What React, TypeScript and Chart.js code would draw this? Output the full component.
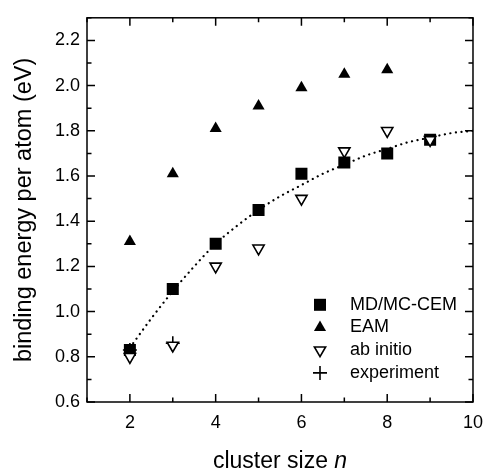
import { useEffect, useRef } from 'react';
import { Chart, registerables } from 'chart.js';

Chart.register(...registerables);

// ---- data ----
const clusterSizes = [2, 3, 4, 5, 6, 7, 8, 9];
const mdmcCem = [0.83, 1.1, 1.3, 1.45, 1.61, 1.66, 1.7, 1.76];
const eamSizes = [2, 3, 4, 5, 6, 7, 8];
const eam = [1.31, 1.61, 1.81, 1.91, 1.99, 2.05, 2.07];
const abInitioSizes = [2, 3, 4, 5, 6, 7, 8, 9];
const abInitio = [0.8, 0.85, 1.2, 1.28, 1.5, 1.71, 1.8, 1.76];
const experimentSizes = [2, 3];
const experiment = [0.83, 0.86];
const fitSizes = [2, 2.5, 3, 3.5, 4, 4.5, 5, 5.5, 6, 6.5, 7, 7.5, 8, 8.5, 9, 9.5, 10];
const fitValues = [0.84, 0.97, 1.09, 1.2, 1.3, 1.38, 1.45, 1.51, 1.56, 1.61, 1.65, 1.69, 1.72, 1.75, 1.77, 1.79, 1.8];

const xMajorTicks = [2, 4, 6, 8, 10];
const xMinorTicks = [1, 3, 5, 7, 9];
const yMajorTicks = [0.6, 0.8, 1.0, 1.2, 1.4, 1.6, 1.8, 2.0, 2.2];
const yMinorTicks = [0.7, 0.9, 1.1, 1.3, 1.5, 1.7, 1.9, 2.1, 2.3];

const xTitle = 'cluster size ';
const xTitleVar = 'n';
const yTitle = 'binding energy per atom (eV)';

const FONT = "'Liberation Sans', Arial, Helvetica, sans-serif";

const pts = (xs: number[], ys: number[]) => xs.map((x, i) => ({ x, y: ys[i] }));

function drawMarker(ctx: CanvasRenderingContext2D, style: string, rot: number, r: number, x: number, y: number, fill: string, stroke: string, bw: number) {
  ctx.save();
  ctx.beginPath();
  if (style === 'rect') {
    const s = Math.SQRT1_2 * r;
    ctx.rect(x - s, y - s, 2 * s, 2 * s);
  } else if (style === 'triangle') {
    let a = (rot * Math.PI) / 180;
    for (let k = 0; k < 3; k++) {
      const px = x + Math.sin(a) * r;
      const py = y - Math.cos(a) * r;
      if (k === 0) ctx.moveTo(px, py); else ctx.lineTo(px, py);
      a += (2 * Math.PI) / 3;
    }
    ctx.closePath();
  } else if (style === 'cross') {
    ctx.moveTo(x, y - r);
    ctx.lineTo(x, y + r);
    ctx.moveTo(x - r, y);
    ctx.lineTo(x + r, y);
  }
  if (style !== 'cross') {
    ctx.fillStyle = fill;
    ctx.fill();
  }
  if (bw > 0) {
    ctx.lineWidth = bw;
    ctx.strokeStyle = stroke;
    ctx.stroke();
  }
  ctx.restore();
}

const framePlugin = {
  id: 'frameTicks',
  afterDatasetsDraw(chart: any) {
    const { ctx, chartArea, scales } = chart;
    const { left, right, top, bottom } = chartArea;
    const x = scales.x;
    const y = scales.y;
    ctx.save();
    ctx.strokeStyle = '#000';
    ctx.lineWidth = 1.5;
    ctx.strokeRect(left, top, right - left, bottom - top);
    ctx.beginPath();
    const major = 8;
    const minor = 4.5;
    xMajorTicks.forEach((v) => {
      const p = x.getPixelForValue(v);
      ctx.moveTo(p, bottom); ctx.lineTo(p, bottom - major);
      ctx.moveTo(p, top); ctx.lineTo(p, top + major);
    });
    xMinorTicks.forEach((v) => {
      const p = x.getPixelForValue(v);
      ctx.moveTo(p, bottom); ctx.lineTo(p, bottom - minor);
      ctx.moveTo(p, top); ctx.lineTo(p, top + minor);
    });
    yMajorTicks.forEach((v) => {
      const p = y.getPixelForValue(v);
      ctx.moveTo(left, p); ctx.lineTo(left + major, p);
      ctx.moveTo(right, p); ctx.lineTo(right - major, p);
    });
    yMinorTicks.forEach((v) => {
      const p = y.getPixelForValue(v);
      ctx.moveTo(left, p); ctx.lineTo(left + minor, p);
      ctx.moveTo(right, p); ctx.lineTo(right - minor, p);
    });
    ctx.stroke();

    // legend
    const legendItems = chart.data.datasets.filter((d: any) => d.showInLegend);
    const symX = left + 233;
    const textX = left + 263;
    let rowY = top + 287;
    ctx.font = `18px ${FONT}`;
    ctx.fillStyle = '#000';
    ctx.textAlign = 'left';
    ctx.textBaseline = 'middle';
    legendItems.forEach((d: any) => {
      drawMarker(ctx, d.pointStyle, d.rotation || 0, d.pointRadius, symX, rowY, d.backgroundColor, d.borderColor, d.borderWidth);
      ctx.fillStyle = '#000';
      ctx.fillText(d.label, textX, rowY);
      rowY += 22.7;
    });

    // x title with italic variable
    const fs = 23;
    ctx.font = `${fs}px ${FONT}`;
    const w1 = ctx.measureText(xTitle).width;
    ctx.font = `italic ${fs}px ${FONT}`;
    const w2 = ctx.measureText(xTitleVar).width;
    const cx = (left + right) / 2;
    const startX = cx - (w1 + w2) / 2;
    const baseY = chart.height - 3;
    ctx.textBaseline = 'alphabetic';
    ctx.font = `${fs}px ${FONT}`;
    ctx.fillText(xTitle, startX, baseY);
    ctx.font = `italic ${fs}px ${FONT}`;
    ctx.fillText(xTitleVar, startX + w1, baseY);
    ctx.restore();
  },
};

export default function App() {
  const ref = useRef<HTMLCanvasElement | null>(null);
  useEffect(() => {
    if (!ref.current) return;
    const chart = new Chart(ref.current, {
      type: 'scatter',
      data: {
        datasets: [
          {
            label: 'MD/MC-CEM',
            showInLegend: true,
            data: pts(clusterSizes, mdmcCem),
            pointStyle: 'rect',
            pointRadius: 8.5,
            backgroundColor: '#000',
            borderColor: '#000',
            borderWidth: 0,
            order: 2,
          } as any,
          {
            label: 'EAM',
            showInLegend: true,
            data: pts(eamSizes, eam),
            pointStyle: 'triangle',
            pointRadius: 7,
            backgroundColor: '#000',
            borderColor: '#000',
            borderWidth: 0,
            order: 3,
          } as any,
          {
            label: 'ab initio',
            showInLegend: true,
            data: pts(abInitioSizes, abInitio),
            pointStyle: 'triangle',
            rotation: 180,
            pointRotation: 180,
            pointRadius: 6.5,
            backgroundColor: '#fff',
            borderColor: '#000',
            borderWidth: 1.6,
            order: 0,
          } as any,
          {
            label: 'experiment',
            showInLegend: true,
            data: pts(experimentSizes, experiment),
            pointStyle: 'cross',
            pointRadius: 7,
            backgroundColor: '#000',
            borderColor: '#000',
            borderWidth: 1.6,
            order: 1,
          } as any,
          {
            label: 'fit',
            showInLegend: false,
            type: 'line',
            data: pts(fitSizes, fitValues),
            showLine: true,
            pointRadius: 0,
            borderColor: '#000',
            borderWidth: 2.2,
            borderDash: [0.1, 5.5],
            borderCapStyle: 'round',
            cubicInterpolationMode: 'monotone',
            fill: false,
            order: 4,
          } as any,
        ],
      },
      options: {
        animation: false,
        responsive: true,
        maintainAspectRatio: false,
        layout: { padding: { top: 13, right: 11, left: 0, bottom: 0 } },
        plugins: { legend: { display: false }, tooltip: { enabled: false } },
        scales: {
          x: {
            type: 'linear',
            min: 1,
            max: 10,
            grid: { display: false, drawTicks: false },
            border: { display: false },
            afterBuildTicks: (s: any) => { s.ticks = xMajorTicks.map((v) => ({ value: v })); },
            afterFit: (s: any) => { s.height = 69; },
            ticks: { color: '#000', padding: 10, maxRotation: 0, font: { size: 18, family: FONT } },
          },
          y: {
            type: 'linear',
            min: 0.6,
            max: 2.3,
            grid: { display: false, drawTicks: false },
            border: { display: false },
            afterBuildTicks: (s: any) => { s.ticks = yMajorTicks.map((v) => ({ value: v })); },
            afterFit: (s: any) => { s.width = 87; },
            ticks: {
              color: '#000',
              padding: 7,
              font: { size: 18, family: FONT },
              callback: (v: any) => Number(v).toFixed(1),
            },
            title: {
              display: true,
              text: yTitle,
              color: '#000',
              padding: { top: 10, bottom: 0 },
              font: { size: 23.5, family: FONT },
            },
          },
        },
      },
      plugins: [framePlugin],
    } as any);
    return () => chart.destroy();
  }, []);
  return (
    <div style={{ position: 'absolute', left: 0, top: 0, width: 493, height: 471, background: '#fff' }}>
      <canvas ref={ref} />
    </div>
  );
}
